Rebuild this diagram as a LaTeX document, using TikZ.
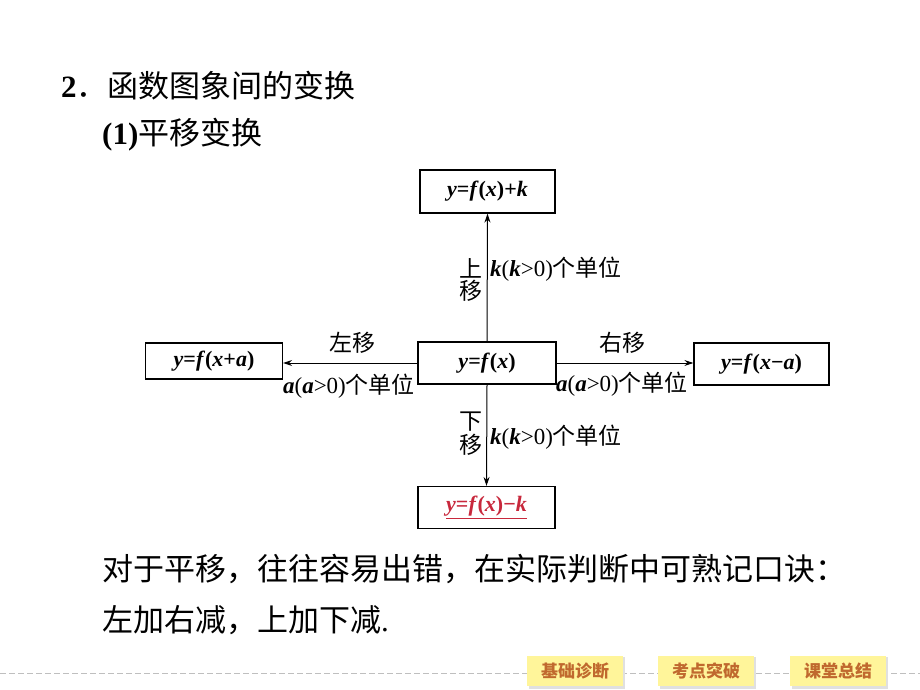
\documentclass[tikz,border=0pt]{standalone}
\usepackage{fontspec}
\setmainfont{Liberation Serif}
\newfontfamily\cjk{Noto Sans CJK SC}
\usetikzlibrary{arrows.meta}
\definecolor{btnfill}{HTML}{FFF59A}
\definecolor{btntext}{HTML}{C0692E}
\definecolor{redtxt}{HTML}{C8283C}
\newcommand{\vv}[1]{\textbf{\textit{#1}}}
\begin{document}
\begin{tikzpicture}[x=1pt,y=-1pt,
  fbox/.style={draw, line width=1.2pt, inner sep=0pt,
    font=\fontsize{22}{25}\selectfont\bfseries},
  lbl/.style={inner sep=0pt, font=\fontsize{23}{26}\selectfont},
  big/.style={inner sep=0pt, anchor=west, font=\fontsize{31}{36}\selectfont},
  conn/.style={line width=1pt, -{Stealth[length=9pt,width=6pt]}},
  btn/.style={fill=btnfill, minimum width=96pt, minimum height=30pt, inner sep=0pt,
    text=btntext, font=\fontsize{17}{20}\selectfont\cjk\bfseries},
  shad/.style={fill=black!12}
]
\useasboundingbox (0,0) rectangle (920,690);
\fill[white] (0,0) rectangle (920,690);

% headings
\node[big] (h1) at (61,86) {\textbf{2}{\cjk ．函数图象间的变换}};
\node[big] (h2) at (102,135) {\textbf{(1)}{\cjk 平移变换}};

% boxes
\node[fbox, minimum width=135pt, minimum height=43pt] (top) at (487.5,191.5) {\vv{y}=\vv{f}(\vv{x})+\vv{k}};
\node[fbox, minimum width=138pt, minimum height=42pt] (mid) at (487,363) {\vv{y}=\vv{f}(\vv{x})};
\node[fbox, minimum width=137pt, minimum height=36pt] (left) at (214,361) {\vv{y}=\vv{f}(\vv{x}+\vv{a})};
\node[fbox, minimum width=135pt, minimum height=42pt] (right) at (761.5,364) {\vv{y}=\vv{f}(\vv{x}−\vv{a})};
\node[fbox, minimum width=137pt, minimum height=42pt] (bot) at (486.5,507.5) {\color{redtxt}\underline{\vv{y}=\vv{f}(\vv{x})−\vv{k}}};

% connectors
\draw[conn] (mid.west) -- (left.east |- mid.west);
\draw[conn] (mid.east) -- (right.west |- mid.east);
\draw[conn] (mid.north) -- (top.south);
\draw[conn] (mid.south) -- (bot.north);

% labels
\node[lbl] (l1) at (352,343) {\cjk 左移};
\node[lbl] (l2) at (349,386) {\vv{a}(\vv{a}>0){\cjk 个单位}};
\node[lbl] (r1) at (622,343) {\cjk 右移};
\node[lbl] (r2) at (622,384) {\vv{a}(\vv{a}>0){\cjk 个单位}};
\node[lbl] (u1) at (471,268) {\cjk 上};
\node[lbl] (u2) at (471,291) {\cjk 移};
\node[lbl, anchor=west] (u3) at (490,269) {\vv{k}(\vv{k}>0){\cjk 个单位}};
\node[lbl] (d1) at (471,422) {\cjk 下};
\node[lbl] (d2) at (471,445) {\cjk 移};
\node[lbl, anchor=west] (d3) at (490,437) {\vv{k}(\vv{k}>0){\cjk 个单位}};

% paragraph
\node[big] (p1) at (102,569) {\cjk 对于平移，往往容易出错，在实际判断中可熟记口诀：};
\node[big] (p2) at (102,620) {{\cjk 左加右减，上加下减}.};

% footer
\draw[black!25, line width=0.8pt, dash pattern=on 6pt off 3pt] (0,673) -- (920,673);
\foreach \cx/\t/\nm in {575/基础诊断/b1, 706/考点突破/b2, 838/课堂总结/b3}{
  \fill[shad] (\cx-46,657) rectangle (\cx+50,689);
  \node[btn] (\nm) at (\cx,671) {\t};
}
\end{tikzpicture}
\end{document}
